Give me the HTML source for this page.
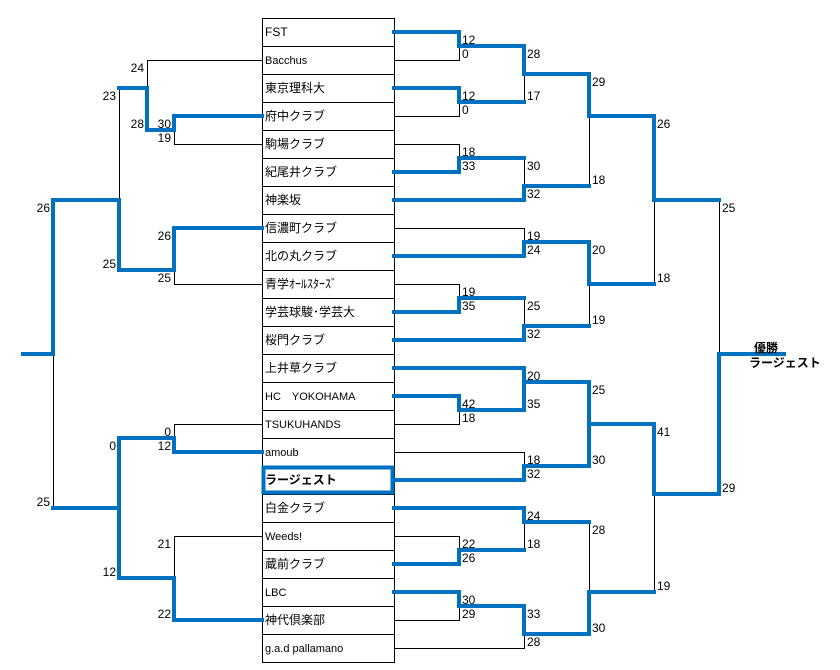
<!DOCTYPE html>
<html><head><meta charset="utf-8"><style>
html,body{margin:0;padding:0;background:#fff;}
svg{display:block;}
text{font-family:"Liberation Sans","Noto Sans CJK JP",sans-serif;font-size:12px;fill:#000;}
.s{font-size:11px;}
.b{fill:none;stroke:#0070c0;stroke-width:4;stroke-linejoin:miter;stroke-linecap:square;}
.k{fill:none;stroke:#000;stroke-width:1;}
</style></head><body>
<svg width="840" height="670" viewBox="0 0 840 670" xmlns="http://www.w3.org/2000/svg">
<g transform="translate(0.5,0.5)">
<rect x="262" y="18" width="132" height="644" class="k"/>
<path class="k" d="M262 46H394M262 74H394M262 102H394M262 130H394M262 158H394M262 186H394M262 214H394M262 242H394M262 270H394M262 298H394M262 326H394M262 354H394M262 382H394M262 410H394M262 438H394M262 466H394M262 494H394M262 522H394M262 550H394M262 578H394M262 606H394M262 634H394"/>
<path class="k" d="M394 60H459V46M394 116H459V102M394 144H459V158M394 284H459V298M524 102V74M524 158V186M394 228H524V242M524 298V326M589 186V116M589 284V326M654 284V200M719 200V354M394 424H459V410M394 452H524V466M394 536H459V550M394 620H459V606M524 550V522M394 648H524V634M589 382V424M589 522V592M654 592V494"/>
<path class="k" d="M262 60H147V88M262 144H174V130M262 284H174V270M119 88V200M262 424H174V438M262 536H174V578M53 354V508"/>
</g>
<path class="b" d="M394 32H459V46H524V74H589V116H654V200H719"/>
<path class="b" d="M394 88H459V102H524"/>
<path class="b" d="M394 172H459V158H524"/>
<path class="b" d="M394 200H524V186H589"/>
<path class="b" d="M394 256H524V242H589V284H654"/>
<path class="b" d="M394 312H459V298H524"/>
<path class="b" d="M394 340H524V326H589"/>
<path class="b" d="M394 368H524V410"/>
<path class="b" d="M394 396H459V410H524"/>
<path class="b" d="M524 382H589V424H654V494H719V354H784"/>
<path class="b" d="M394 480H524V466H589V424"/>
<path class="b" d="M394 508H524V522H589"/>
<path class="b" d="M394 564H459V550H524"/>
<path class="b" d="M394 592H459V606H524V634H589V592H654"/>
<path class="b" d="M262 116H174V130H147V88H119"/>
<path class="b" d="M262 228H174V270H119V200H53V354H23"/>
<path class="b" d="M262 452H174V438H119V578"/>
<path class="b" d="M262 620H174V578H119"/>
<path class="b" d="M119 508H53"/>
<rect x="263.5" y="467.5" width="129" height="25" fill="none" stroke="#0070c0" stroke-width="4"/>
<g>
<text x="265" y="36">FST</text>
<text x="265" y="64" class="s">Bacchus</text>
<text x="265" y="92">東京理科大</text>
<text x="265" y="120">府中クラブ</text>
<text x="265" y="148">駒場クラブ</text>
<text x="265" y="176">紀尾井クラブ</text>
<text x="265" y="204">神楽坂</text>
<text x="265" y="232">信濃町クラブ</text>
<text x="265" y="260">北の丸クラブ</text>
<text x="265" y="288">青学ｵｰﾙｽﾀｰｽﾞ</text>
<text x="265" y="316">学芸球駿･学芸大</text>
<text x="265" y="344">桜門クラブ</text>
<text x="265" y="372">上井草クラブ</text>
<text x="265" y="400" class="s">HC　YOKOHAMA</text>
<text x="265" y="428" class="s">TSUKUHANDS</text>
<text x="265" y="456" class="s">amoub</text>
<text x="265" y="484" font-weight="bold">ラージェスト</text>
<text x="265" y="512">白金クラブ</text>
<text x="265" y="540" class="s">Weeds!</text>
<text x="265" y="568">蔵前クラブ</text>
<text x="265" y="596" class="s">LBC</text>
<text x="265" y="624">神代倶楽部</text>
<text x="265" y="652" class="s">g.a.d pallamano</text>
</g>
<g text-anchor="end">
<text x="171" y="128">30</text><text x="171" y="142">19</text>
<text x="171" y="240">26</text><text x="171" y="282">25</text>
<text x="171" y="436">0</text><text x="171" y="450">12</text>
<text x="171" y="548">21</text><text x="171" y="618">22</text>
<text x="144" y="72">24</text><text x="144" y="128">28</text>
<text x="116" y="100">23</text><text x="116" y="268">25</text>
<text x="116" y="450">0</text><text x="116" y="576">12</text>
<text x="50" y="212">26</text><text x="50" y="506">25</text>
</g>
<g>
<text x="462" y="44">12</text><text x="462" y="58">0</text>
<text x="462" y="100">12</text><text x="462" y="114">0</text>
<text x="462" y="156">18</text><text x="462" y="170">33</text>
<text x="462" y="296">19</text><text x="462" y="310">35</text>
<text x="462" y="408">42</text><text x="462" y="422">18</text>
<text x="462" y="548">22</text><text x="462" y="562">26</text>
<text x="462" y="604">30</text><text x="462" y="618">29</text>
<text x="527" y="58">28</text><text x="527" y="100">17</text>
<text x="527" y="170">30</text><text x="527" y="198">32</text>
<text x="527" y="240">19</text><text x="527" y="254">24</text>
<text x="527" y="310">25</text><text x="527" y="338">32</text>
<text x="527" y="380">20</text><text x="527" y="408">35</text>
<text x="527" y="464">18</text><text x="527" y="478">32</text>
<text x="527" y="520">24</text><text x="527" y="548">18</text>
<text x="527" y="618">33</text><text x="527" y="646">28</text>
<text x="592" y="86">29</text><text x="592" y="184">18</text>
<text x="592" y="254">20</text><text x="592" y="324">19</text>
<text x="592" y="394">25</text><text x="592" y="464">30</text>
<text x="592" y="534">28</text><text x="592" y="632">30</text>
<text x="657" y="128">26</text><text x="657" y="282">18</text>
<text x="657" y="436">41</text><text x="657" y="590">19</text>
<text x="722" y="212">25</text><text x="722" y="492">29</text>
</g>
<text x="754" y="352" font-weight="bold">優勝</text>
<text x="749" y="367" font-weight="bold">ラージェスト</text>
</svg>
</body></html>
